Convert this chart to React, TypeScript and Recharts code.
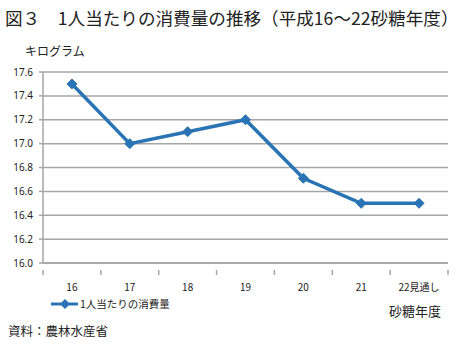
import React from "react";
import { LineChart, Line, XAxis, YAxis, CartesianGrid } from "recharts";

const categories = ["16", "17", "18", "19", "20", "21", "22見通し"];
const consumption = [17.5, 17.0, 17.1, 17.2, 16.71, 16.5, 16.5];
const yTicks = [16.0, 16.2, 16.4, 16.6, 16.8, 17.0, 17.2, 17.4, 17.6];
const seriesName = "1人当たりの消費量";

const data = categories.map((c, i) => ({ year: c, value: consumption[i] }));

const JP = '"Noto Sans CJK JP", "Noto Sans", sans-serif';
const NUM = '"Noto Sans", "Noto Sans CJK JP", sans-serif';
const LINE_COLOR = "#2a74b5";
const GRID = "#a6a6a6";

const Diamond = (props: any) => {
  const { cx, cy } = props;
  if (cx == null || cy == null) return null;
  const r = 5;
  return (
    <path
      d={`M${cx},${cy - r}L${cx + r},${cy}L${cx},${cy + r}L${cx - r},${cy}Z`}
      fill={LINE_COLOR}
      stroke={LINE_COLOR}
      strokeWidth={1}
    />
  );
};

const XTick = (props: any) => {
  const { x, y, payload, index, visibleTicksCount } = props;
  const half = payload.offset || 0;
  const last = index === (visibleTicksCount ?? categories.length) - 1;
  return (
    <g>
      <line x1={x - half} x2={x - half} y1={y - 1} y2={y + 4} stroke={GRID} strokeWidth={1.5} />
      {last && <line x1={x + half} x2={x + half} y1={y - 1} y2={y + 4} stroke={GRID} strokeWidth={1.5} />}
      <text x={x} y={y + 20} textAnchor="middle" fontSize={10} fontFamily={JP} fill="#222">
        {payload.value}
      </text>
    </g>
  );
};

export default function App() {
  return (
    <div style={{ position: "absolute", left: 0, top: 0, width: 457, height: 346, background: "#fff" }}>
      <div
        style={{
          position: "absolute",
          left: 5,
          top: 5,
          fontFamily: JP,
          fontSize: 17.6,
          color: "#222",
          whiteSpace: "nowrap",
        }}
      >
        図３　1人当たりの消費量の推移（平成16～22砂糖年度）
      </div>
      <div style={{ position: "absolute", left: 25, top: 42, fontFamily: JP, fontSize: 12, color: "#222" }}>
        キログラム
      </div>
      <LineChart
        width={457}
        height={346}
        data={data}
        margin={{ top: 72, right: 9, bottom: 53, left: 0 }}
        style={{ position: "absolute", left: 0, top: 0 }}
      >
        <CartesianGrid vertical={false} stroke={GRID} strokeWidth={1.5} />
        <XAxis
          dataKey="year"
          scale="band"
          tickLine={false}
          axisLine={{ stroke: GRID, strokeWidth: 1.5 }}
          tick={<XTick />}
          height={30}
          interval={0}
        />
        <YAxis
          domain={[16, 17.6]}
          ticks={yTicks}
          tickFormatter={(v: number) => v.toFixed(1)}
          width={43}
          tickSize={4}
          tickMargin={6}
          tickLine={{ stroke: GRID, strokeWidth: 1.5 }}
          axisLine={{ stroke: GRID, strokeWidth: 1.5 }}
          tick={{ fontSize: 10, fontFamily: NUM, fill: "#222" }}
          interval={0}
        />
        <Line
          dataKey="value"
          name={seriesName}
          stroke={LINE_COLOR}
          strokeWidth={3.5}
          dot={<Diamond />}
          activeDot={false}
          isAnimationActive={false}
        />
      </LineChart>
      <svg width={170} height={16} style={{ position: "absolute", left: 49, top: 296 }}>
        <line x1={2} x2={29} y1={8} y2={8} stroke={LINE_COLOR} strokeWidth={3} />
        <path d="M16,3L21,8L16,13L11,8Z" fill={LINE_COLOR} />
        <text x={31} y={12} fontSize={10.5} fontFamily={JP} fill="#222">
          {seriesName}
        </text>
      </svg>
      <div style={{ position: "absolute", left: 389, top: 301, fontFamily: JP, fontSize: 13, color: "#222" }}>
        砂糖年度
      </div>
      <div style={{ position: "absolute", left: 8, top: 321, fontFamily: JP, fontSize: 12.5, color: "#222" }}>
        資料：農林水産省
      </div>
    </div>
  );
}
